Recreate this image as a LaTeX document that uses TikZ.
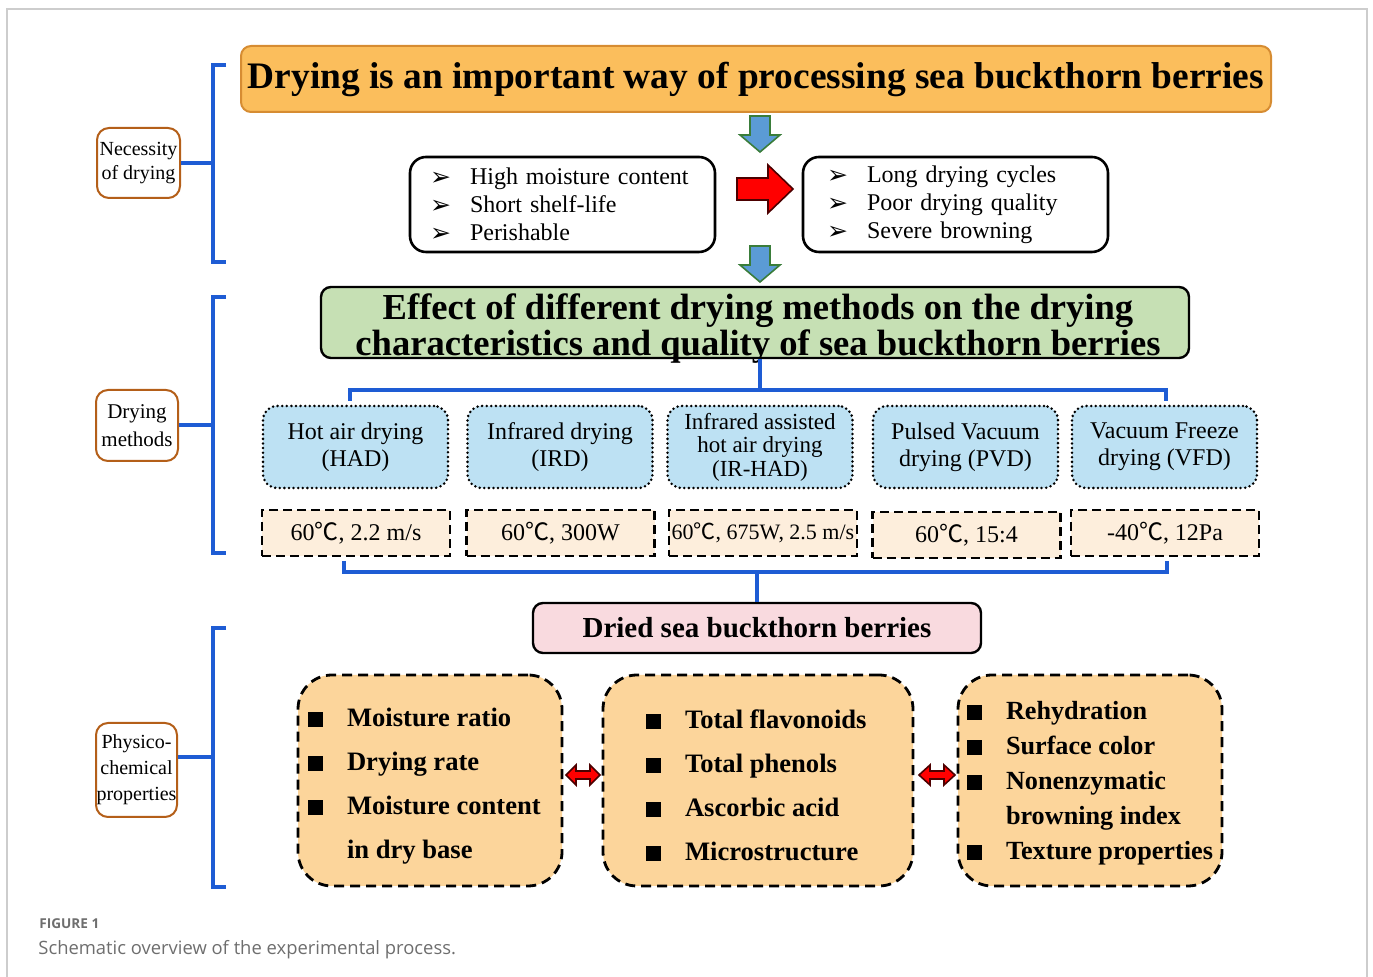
\documentclass[tikz,border=0pt]{standalone}
\usepackage{fontspec}
\setmainfont{Liberation Serif}
\newfontfamily\symfont{DejaVu Sans}
\newfontfamily\cjkfont{Noto Sans CJK SC}
\newfontfamily\capfont{Open Sans}
\usetikzlibrary{calc}
\definecolor{titlefill}{RGB}{251,190,92}
\definecolor{titleborder}{RGB}{214,140,50}
\definecolor{greenfill}{RGB}{198,224,180}
\definecolor{methodfill}{RGB}{189,225,243}
\definecolor{paramfill}{RGB}{253,238,220}
\definecolor{driedfill}{RGB}{249,218,223}
\definecolor{propfill}{RGB}{252,213,155}
\definecolor{bracketblue}{RGB}{30,92,212}
\definecolor{labelbrown}{RGB}{180,95,25}
\definecolor{arrowblue}{RGB}{91,155,213}
\definecolor{arrowgreen}{RGB}{58,125,58}
\definecolor{capgray}{RGB}{110,110,110}
\definecolor{framegray}{RGB}{205,205,205}
\newcommand\arrowitem[1]{\makebox[20pt][l]{\raisebox{-0.5pt}{\symfont\fontsize{12.5}{12}\selectfont ➢}}#1}
\newcommand\sqitem[1]{\mbox{\makebox[19.5pt][l]{\rule{7.5pt}{7.5pt}}#1}}
\newcommand\degc{{\cjkfont ℃}}
\begin{document}
\begin{tikzpicture}[x=0.5pt,y=-0.5pt,
  titlebox/.style={draw=titleborder, fill=titlefill, line width=1pt, rounded corners=5pt,
    minimum width=515pt, minimum height=33pt, inner sep=0pt,
    font=\fontsize{18.7}{20}\selectfont\bfseries},
  listbox/.style={draw=black, line width=1.3pt, rounded corners=8pt, inner xsep=10pt, inner ysep=0pt,
    text width=132.5pt, minimum height=47.5pt, align=left,
    font=\fontsize{12}{14}\selectfont},
  greenbox/.style={draw=black, fill=greenfill, line width=1.2pt, rounded corners=5pt,
    minimum width=434pt, minimum height=35.5pt, inner sep=0pt},
  greentext/.style={inner sep=0pt, align=center,
    font=\fontsize{18.3}{16.2}\selectfont\bfseries},
  methodbox/.style={draw=black, fill=methodfill, line width=1.4pt, dash pattern=on 0pt off 2.3pt,
    line cap=round, rounded corners=7pt, minimum width=92.5pt, minimum height=41pt,
    inner sep=0pt, align=center, font=\fontsize{12}{13.5}\selectfont},
  parambox/.style={draw=black, fill=paramfill, line width=1.3pt, dash pattern=on 4.5pt off 2.5pt,
    minimum width=94pt, minimum height=23pt, inner sep=0pt, font=\fontsize{12}{14}\selectfont},
  driedbox/.style={draw=black, fill=driedfill, line width=1.2pt, rounded corners=5pt,
    minimum width=224pt, minimum height=25pt, inner sep=0pt,
    font=\fontsize{14.5}{16}\selectfont\bfseries},
  propbox/.style={draw=black, fill=propfill, line width=1.4pt, dash pattern=on 5pt off 3pt,
    rounded corners=17pt, minimum height=105.5pt, inner sep=0pt},
  proptext/.style={anchor=west, inner sep=0pt, align=left,
    font=\fontsize{13.3}{22}\selectfont\bfseries},
  labelbox/.style={draw=labelbrown, fill=white, line width=1pt, rounded corners=6pt,
    inner sep=0pt, align=center, font=\fontsize{10}{12}\selectfont},
  bracket/.style={draw=bracketblue, line width=2pt},
  tree/.style={draw=bracketblue, line width=1.6pt},
  downarrow/.style={fill=arrowblue, draw=arrowgreen, line width=0.8pt, line join=miter},
  redarrow/.style={fill=red, draw=black!70!red, line width=0.8pt, line join=miter}
]
\useasboundingbox (0,0) rectangle (1373,977);
% frame
\draw[framegray, line width=0.6pt] (7,977) -- (7,9) -- (1367,9) -- (1367,977);

% title
\node[titlebox] (title) at (756,79) {Drying is an important way of processing sea buckthorn berries};

% down arrows
\filldraw[downarrow] (750,116) -- (770,116) -- (770,135) -- (780,135) -- (760,152) -- (740,135) -- (750,135) -- cycle;
\filldraw[downarrow] (750,246) -- (770,246) -- (770,265) -- (780,265) -- (760,282) -- (740,265) -- (750,265) -- cycle;

% list boxes
\node[listbox] (need) at (562.5,204.5) {\arrowitem{High moisture content}\\\arrowitem{Short shelf-life}\\\arrowitem{Perishable}};
\node[listbox, inner xsep=12pt, text width=128.5pt] (prob) at (955.5,204.5) {\arrowitem{Long drying cycles}\\\arrowitem{Poor drying quality}\\\arrowitem{Severe browning}};
\filldraw[redarrow] (737,178) -- (768,178) -- (768,165) -- (793,189) -- (768,213) -- (768,200) -- (737,200) -- cycle;

% green box
\node[greenbox] (effect) at (755,322.5) {};
\node[greentext] (effectt) at ($(effect.center)+(3,6)$) {Effect of different drying methods on the drying\\characteristics and quality of sea buckthorn berries};

% tree top
\coordinate (tt) at (760,390);
\coordinate (tl) at (350,401);
\coordinate (tr) at (1166,401);
\draw[tree] (effect.south -| tt) -- (tt);
\draw[tree] (tl) -- (tl |- tt) -- (tr |- tt) -- (tr);

% method boxes
\node[methodbox] (had) at (355.5,447) {Hot air drying\\(HAD)};
\node[methodbox] (ird) at (560,447) {Infrared drying\\(IRD)};
\node[methodbox, font=\fontsize{11.5}{11.75}\selectfont] (irhad) at (760,447) {Infrared assisted\\hot air drying\\(IR-HAD)};
\node[methodbox] (pvd) at (965.5,447) {Pulsed Vacuum\\drying (PVD)};
\node[methodbox] (vfd) at (1164.5,447) {Vacuum Freeze\\drying (VFD)};

% parameter boxes
\node[parambox] (p1) at (356,533) {60\degc, 2.2 m/s};
\node[parambox] (p2) at (560.5,533) {60\degc, 300W};
\node[parambox, font=\fontsize{11}{13}\selectfont] (p3) at (763,533) {60\degc, 675W, 2.5 m/s};
\node[parambox] (p4) at (966.5,535) {60\degc, 15:4};
\node[parambox] (p5) at (1165,533) {-40\degc, 12Pa};

% tree bottom
\coordinate (bb) at (757,572);
\coordinate (bl) at (344,561);
\coordinate (br) at (1167,561);
\draw[tree] (bl) -- (bl |- bb) -- (br |- bb) -- (br);

% dried
\node[driedbox] (dried) at (757,628) {Dried sea buckthorn berries};
\draw[tree] (bb) -- (dried.north);

% property boxes
\node[propbox, minimum width=132pt] (prop1) at (430,780.5) {};
\node[propbox, minimum width=155pt] (prop2) at (758,780.5) {};
\node[propbox, minimum width=132pt] (prop3) at (1090,780.5) {};
\node[proptext] (prop1t) at ($(prop1.west)+(11,6)$)
  {\sqitem{Moisture ratio}\\\sqitem{Drying rate}\\\sqitem{Moisture content}\\\hspace*{19.5pt}in dry base};
\node[proptext] (prop2t) at ($(prop2.west)+(44,5)$)
  {\sqitem{Total flavonoids}\\\sqitem{Total phenols}\\\sqitem{Ascorbic acid}\\\sqitem{Microstructure}};
\node[proptext, font=\fontsize{13.1}{17.5}\selectfont\bfseries] (prop3t) at ($(prop3.west)+(10,3)$)
  {\sqitem{Rehydration}\\\sqitem{Surface color}\\\sqitem{Nonenzymatic}\\\hspace*{19.5pt}browning index\\\sqitem{Texture properties}};
\filldraw[redarrow] (566,775) -- (576,765) -- (576,771) -- (590,771) -- (590,765) -- (600,775) -- (590,785) -- (590,779) -- (576,779) -- (576,785) -- cycle;
\filldraw[redarrow] (919,775) -- (930,765) -- (930,771) -- (944,771) -- (944,765) -- (955,775) -- (944,785) -- (944,779) -- (930,779) -- (930,785) -- cycle;

% left labels and brackets
\node[labelbox, minimum width=41.5pt, minimum height=35pt] (lab1) at (138.5,163) {Necessity\\of drying};
\node[labelbox, minimum width=41pt, minimum height=35.5pt, font=\fontsize{10.5}{14}\selectfont] (lab2) at (137,425.5) {Drying\\methods};
\node[labelbox, minimum width=40.5pt, minimum height=47pt, font=\fontsize{10}{13}\selectfont] (lab3) at (136.5,770) {Physico-\\chemical\\properties};

\coordinate (b1) at (213,163);
\coordinate (b2) at (213,425.5);
\coordinate (b3) at (213,757);
\draw[bracket] (226,65) -- (213,65) -- (213,262) -- (226,262);
\draw[bracket] (226,297) -- (213,297) -- (213,553) -- (226,553);
\draw[bracket] (226,628) -- (213,628) -- (213,887) -- (226,887);
\draw[bracket] (lab1.east) -- (b1);
\draw[bracket] (lab2.east) -- (b2);
\draw[bracket] (lab3.east |- b3) -- (b3);

% caption
\node[anchor=base west, inner sep=0pt, text=capgray, font=\capfont\bfseries\fontsize{6.8}{8}\selectfont] (fig) at (39,929) {FIGURE 1};
\node[anchor=base west, inner sep=0pt, text=capgray, font=\capfont\fontsize{9.2}{10}\selectfont] (cap) at (38,955) {Schematic overview of the experimental process.};
\end{tikzpicture}
\end{document}
